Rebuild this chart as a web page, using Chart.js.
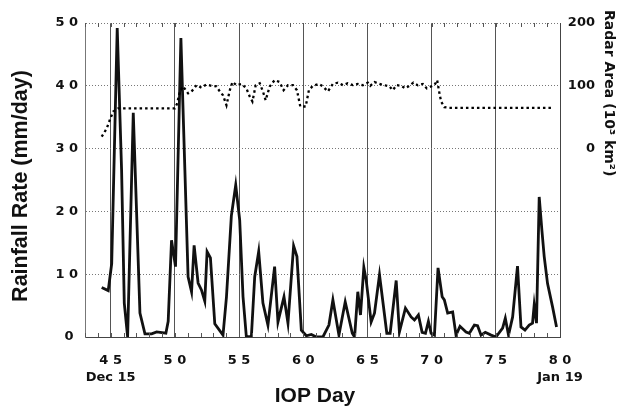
<!DOCTYPE html>
<html><head><meta charset="utf-8">
<script src="https://cdn.jsdelivr.net/npm/chart.js@4.4.1/dist/chart.umd.min.js"></script>
<style>html,body{margin:0;padding:0;background:#fff}#wrap{width:619px;height:407px;position:relative}</style>
</head><body><div id="wrap"><canvas id="c" width="619" height="407"></canvas></div>
<script>
// Rainfall rate (mm/day) vs IOP day
const rainDays = [44.30,44.81,45.08,45.51,45.85,46.06,46.32,46.76,47.28,47.67,48.19,48.58,49.30,49.48,49.74,50.05,50.47,50.78,51.03,51.30,51.50,51.81,52.07,52.33,52.51,52.77,53.11,53.75,54.02,54.40,54.74,55.05,55.31,55.57,55.96,56.22,56.53,56.86,57.25,57.77,58.03,58.50,58.81,59.25,59.51,59.85,60.24,60.63,61.02,61.53,62.00,62.31,62.78,63.27,63.82,64.00,64.25,64.46,64.72,64.90,65.29,65.55,65.94,66.51,66.77,67.24,67.49,67.96,68.40,68.66,68.97,69.26,69.52,69.75,69.96,70.22,70.50,70.82,70.99,71.25,71.64,71.90,72.21,72.68,72.94,73.33,73.58,73.85,74.18,74.63,75.01,75.53,75.74,75.99,76.31,76.69,76.96,77.27,77.60,77.86,77.99,78.17,78.38,78.59,78.77,79.03,79.42,79.73];
const rainValues = [7.9,7.4,11.7,49.2,26.6,5.4,0,35.7,3.8,0.5,0.5,0.8,0.6,2.5,15.4,11.2,47.6,26.6,9.6,7.2,14.6,8.6,7.5,5.7,13.6,12.6,2.1,0.3,6.4,19.3,24.2,18.6,6.4,0,0.1,9.6,13.6,5.4,1.9,11.2,2.4,6.4,2.2,14.5,12.8,1.1,0.2,0.4,0,0,1.9,5.9,0.3,5.6,0.6,0,7.2,3.5,11.1,9.1,2.4,3.8,9.9,0.6,0.6,9.0,0.8,4.6,3.2,2.7,3.5,0.75,0.6,2.5,0.6,0.3,11.0,6.4,5.9,3.8,4.0,0.3,1.7,0.8,0.6,1.9,1.8,0.3,0.75,0.3,0,1.4,3.0,0.3,3.2,11.3,1.6,1.1,1.9,2.2,5.1,2.2,22.3,17.0,12.8,8.5,4.8,1.6];
// Radar area (10^3 km^2) vs IOP day
const radarDays = [44.30,44.69,44.94,45.20,45.59,50.00,50.18,50.39,50.64,51.03,51.30,51.69,52.07,52.46,52.85,53.24,53.50,53.75,54.02,54.28,54.49,54.80,55.19,55.57,55.83,56.04,56.30,56.61,56.86,57.07,57.39,57.77,58.16,58.47,58.81,59.20,59.51,59.77,60.19,60.44,60.75,61.22,61.53,61.92,62.31,62.70,63.09,63.47,63.86,64.25,64.64,65.03,65.22,65.55,65.94,66.33,66.72,66.97,67.28,67.63,67.96,68.27,68.58,68.92,69.31,69.62,69.96,70.22,70.43,70.61,70.74,70.99,71.38,79.34];
const radarValues = [19,32,46,59,64,64,72,91,99,88,91,101,97,102,100,99,91,85,69,93,106,101,103,96,83,75,101,104,91,77,99,109,106,93,101,101,93,67,67,93,100,103,99,91,103,105,101,104,101,103,101,105,100,106,103,101,99,93,101,100,96,100,105,101,103,96,99,101,109,88,75,66,65,65];

const xTickValues = [45,50,55,60,65,70,75,80];
const xTickLabels = [['4 5','Dec 15'],'5 0','5 5','6 0','6 5','7 0','7 5',['8 0','Jan 19']];
const leftTickValues = [0,10,20,30,40,50];
const leftTickLabels = ['0 ','1 0','2 0','3 0','4 0','5 0'];
const rightTickValues = [0,100,200];
const rightTickLabels = ['0','100','200'];
const xTitle = 'IOP Day';
const yTitle = 'Rainfall Rate (mm/day)';
const y2Title = 'Radar Area (10\u00B3 km\u00B2)';

const tickFont = {family:'"DejaVu Sans", sans-serif', size:13, weight:'bold', lineHeight:1.3};

const decor = {
  id:'decor',
  afterDraw(chart){
    const ctx = chart.ctx, a = chart.chartArea, xs = chart.scales.x;
    ctx.save();
    ctx.strokeStyle = '#555'; ctx.lineWidth = 1;
    ctx.beginPath();
    for (let d = Math.ceil(xs.min); d < xs.max; d++) {
      const px = Math.round(xs.getPixelForValue(d)) + 0.5;
      ctx.moveTo(px, a.bottom); ctx.lineTo(px, a.bottom - 4);
      ctx.moveTo(px, a.top); ctx.lineTo(px, a.top + 4);
    }
    ctx.stroke();
    ctx.fillStyle = '#111';
    ctx.font = 'bold 21px "Liberation Sans", Arial, sans-serif';
    ctx.textAlign = 'center'; ctx.textBaseline = 'alphabetic';
    ctx.fillText(xTitle, 315, 402);
    ctx.save();
    ctx.font = 'bold 21.5px "Liberation Sans", Arial, sans-serif';
    ctx.translate(27, 186); ctx.rotate(-Math.PI/2);
    ctx.fillText(yTitle, 0, 0);
    ctx.restore();
    ctx.save();
    ctx.font = 'bold 14px "DejaVu Sans", sans-serif';
    ctx.textAlign = 'left';
    ctx.translate(605, 10); ctx.rotate(Math.PI/2);
    ctx.fillText(y2Title, 0, 0);
    ctx.restore();
    ctx.restore();
  }
};

new Chart(document.getElementById('c'), {
  type:'line',
  data:{datasets:[
    {label:'Radar Area', data: radarDays.map((d,i)=>({x:d,y:radarValues[i]})), yAxisID:'y2',
     borderColor:'#000', borderWidth:2.3, borderDash:[2.5,3], pointRadius:0, tension:0, fill:false},
    {label:'Rainfall Rate', data: rainDays.map((d,i)=>({x:d,y:rainValues[i]})), yAxisID:'y',
     borderColor:'#111', borderWidth:2.8, pointRadius:0, tension:0, fill:false}
  ]},
  options:{
    responsive:false, animation:false, devicePixelRatio:1,
    layout:{padding:{top:23,left:0,right:24,bottom:0}},
    plugins:{legend:{display:false}, tooltip:{enabled:false}},
    scales:{
      x:{type:'linear', min:43, max:80,
         afterBuildTicks:s=>{s.ticks = xTickValues.map(v=>({value:v}));},
         afterFit:s=>{s.height = 70;},
         ticks:{callback:(v,i)=>xTickLabels[i], font:tickFont, color:'#111', padding:15, maxRotation:0, autoSkip:false},
         grid:{color:c=>(c.tick && c.tick.value===80)?'rgba(0,0,0,0)':'#555', lineWidth:1, drawTicks:false},
         border:{display:true, color:'#444', width:1}},
      y:{type:'linear', position:'left', min:0, max:50,
         afterBuildTicks:s=>{s.ticks = leftTickValues.map(v=>({value:v}));},
         afterFit:s=>{s.width = 85;},
         ticks:{callback:(v,i)=>leftTickLabels[i], font:tickFont, color:'#111', padding:7},
         grid:{color:c=>(c.tick && c.tick.value===0)?'rgba(0,0,0,0)':'#777', lineWidth:1, drawTicks:false},
         border:{display:true, color:'#777', width:1, dash:[1,2]}},
      y2:{type:'linear', position:'right', min:-300, max:200,
         afterBuildTicks:s=>{s.ticks = rightTickValues.map(v=>({value:v}));},
         afterFit:s=>{s.width = 35;},
         ticks:{callback:(v,i)=>rightTickLabels[i], font:tickFont, color:'#111', padding:5, crossAlign:'far'},
         grid:{display:false, drawTicks:false},
         border:{display:true, color:'#444', width:1}}
    }
  },
  plugins:[decor]
});
</script></body></html>
